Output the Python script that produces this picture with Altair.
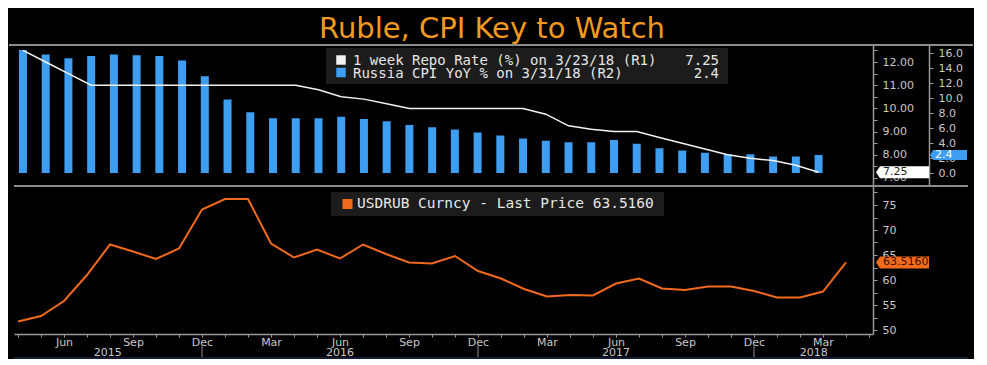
import json
import altair as alt
import pandas as pd

# ---------------- data ----------------
TITLE = "Ruble, CPI Key to Watch"

# month index 0 = Apr 2015 ... 36 = Apr 2018
month_index = list(range(37))
cpi_yoy = [16.4, 15.8, 15.3, 15.6, 15.8, 15.7, 15.6, 15.0, 12.9, 9.8, 8.1, 7.3,
           7.3, 7.3, 7.5, 7.2, 6.9, 6.4, 6.1, 5.8, 5.4, 5.0, 4.6, 4.3,
           4.1, 4.1, 4.4, 3.9, 3.3, 3.0, 2.7, 2.5, 2.5, 2.2, 2.2, 2.4]
repo_rate = [12.5, 12.0, 11.5, 11.0, 11.0, 11.0, 11.0, 11.0, 11.0, 11.0, 11.0, 11.0,
             11.0, 10.8, 10.5, 10.4, 10.2, 10.0, 10.0, 10.0, 10.0, 10.0, 10.0, 9.75,
             9.25, 9.1, 9.0, 9.0, 8.75, 8.5, 8.25, 8.0, 7.85, 7.75, 7.55, 7.25]
usdrub = [51.7, 52.8, 55.8, 61.0, 67.1, 65.7, 64.2, 66.3, 74.1, 76.2, 76.2, 67.3,
          64.5, 66.1, 64.3, 67.1, 65.2, 63.5, 63.3, 64.8, 61.8, 60.3, 58.2, 56.7,
          57.0, 56.9, 59.3, 60.3, 58.3, 58.0, 58.7, 58.7, 57.8, 56.5, 56.5, 57.7, 63.516]

month_ticks = list(range(38))
quarter_idx = [2, 5, 8, 11, 14, 17, 20, 23, 26, 29, 32, 35]
quarter_txt = ["Jun", "Sep", "Dec", "Mar", "Jun", "Sep", "Dec", "Mar", "Jun", "Sep", "Dec", "Mar"]
years = ["2015", "2016", "2017", "2018"]
year_pos = [3.9, 14.0, 26.0, 34.6]
year_breaks = [8, 20, 32]

repo_ticks = [7.0, 7.5, 8.0, 8.5, 9.0, 9.5, 10.0, 10.5, 11.0, 11.5, 12.0, 12.5]
cpi_ticks = [0, 2, 4, 6, 8, 10, 12, 14, 16]
usd_ticks = [50, 52.5, 55, 57.5, 60, 62.5, 65, 67.5, 70, 72.5, 75, 77.5]

legend_top_labels = ["1 week Repo Rate (%) on 3/23/18 (R1)", "Russia CPI YoY % on 3/31/18 (R2)"]
legend_top_values = ["7.25", "2.4"]
legend_bottom_label = "USDRUB Curncy - Last Price 63.5160"

# ---------------- style ----------------
BG = "#000000"
BLUE = "#3d9ef2"
WHITE = "#f2f2f2"
ORANGE = "#f26a1b"
TITLE_C = "#f39a1e"
LABEL = "#c8c8c8"
AXIS = "#9a9a9a"
LEG_BG = "#1c1c1c"
NAVY = "#161c38"
FONT = "DejaVu Sans"
MONO = "DejaVu Sans Mono"

W, H1, H2 = 859, 141, 148

x_scale = alt.Scale(domain=[-0.174, 37.174], nice=False, zero=False)
repo_scale = alt.Scale(domain=[6.655, 12.733], nice=False, zero=False)
cpi_scale = alt.Scale(domain=[-1.733, 17.067], nice=False, zero=False)
usd_scale = alt.Scale(domain=[49.2, 78.8], nice=False, zero=False)

axis_common = dict(grid=False, title=None, labelFont=FONT, labelFontSize=11,
                   labelColor=LABEL, domainColor=AXIS, tickColor=AXIS,
                   domainWidth=1.5, tickWidth=1, labelOverlap=False, labelFlush=False)

labels38 = [""] * len(month_ticks)
for k, t in zip(quarter_idx, quarter_txt):
    labels38[k] = t
x_label_expr = json.dumps(labels38) + "[datum.value]"

x_axis_bottom = alt.Axis(values=month_ticks, labelExpr=x_label_expr, tickSize=3,
                         labelPadding=-1, **axis_common)
y_axis_usd = alt.Axis(orient="right", offset=0, values=usd_ticks,
                      labelExpr="datum.value % 5 === 0 ? format(datum.value, 'd') : ''",
                      tickSize=4, labelPadding=5, **axis_common)

BADGE_WIDE = "M-1,0L-0.85,-0.226L1,-0.226L1,0.226L-0.85,0.226Z"
BADGE_SMALL = "M-1,0L-0.83,-0.27L1,-0.27L1,0.27L-0.83,0.27Z"

top_df = pd.DataFrame({"i": month_index[:36], "cpi": cpi_yoy, "repo": repo_rate})
usd_df = pd.DataFrame({"i": month_index, "usd": usdrub})
one = pd.DataFrame({"k": [0]})
xq = alt.X("i:Q", scale=x_scale, axis=None)

# ---------------- top panel ----------------
title_mark = alt.Chart(pd.DataFrame({"t": [TITLE]})).mark_text(
    font=FONT, fontSize=29, color=TITLE_C, align="center", baseline="top"
).encode(x=alt.value(478), y=alt.value(-30), text="t:N")

border_top = alt.Chart(one).mark_rule(color="#8c8c8c", strokeWidth=2).encode(
    x=alt.value(-5), x2=alt.value(959), y=alt.value(0))
border_mid = alt.Chart(one).mark_rule(color="#8c8c8c", strokeWidth=2).encode(
    x=alt.value(0), x2=alt.value(954), y=alt.value(H1))

bars = alt.Chart(top_df).mark_bar(color=BLUE, size=8).encode(
    x=xq,
    y=alt.Y("cpi:Q", scale=cpi_scale,
            axis=alt.Axis(orient="right", offset=56, values=cpi_ticks, format=".1f",
                          tickSize=4, labelPadding=5, **axis_common)),
    y2=alt.datum(0),
)

repo_line = alt.Chart(top_df).mark_line(color=WHITE, strokeWidth=1.5).encode(
    x=xq,
    y=alt.Y("repo:Q", scale=repo_scale,
            axis=alt.Axis(orient="right", offset=0, values=repo_ticks,
                          labelExpr="datum.value % 1 === 0 ? format(datum.value, '.2f') : ''",
                          tickSize=4, labelPadding=5, **axis_common)),
)

leg_box_top = alt.Chart(one).mark_rect(color=LEG_BG).encode(
    x=alt.value(312), x2=alt.value(714), y=alt.value(3), y2=alt.value(39))
leg_sq1 = alt.Chart(one).mark_square(color=WHITE, size=90, opacity=1).encode(
    x=alt.value(327), y=alt.value(15))
leg_sq2 = alt.Chart(one).mark_square(color=BLUE, size=90, opacity=1).encode(
    x=alt.value(327), y=alt.value(27.5))
leg_txt = alt.Chart(pd.DataFrame({"t": ["\n".join(legend_top_labels)]})).mark_text(
    font=MONO, fontSize=14, lineHeight=12.5, lineBreak="\n", color="#e6e6e6",
    align="left", baseline="top"
).encode(x=alt.value(339), y=alt.value(9), text="t:N")
leg_val = alt.Chart(pd.DataFrame({"t": ["\n".join(legend_top_values)]})).mark_text(
    font=MONO, fontSize=14, lineHeight=12.5, lineBreak="\n", color="#e6e6e6",
    align="right", baseline="top"
).encode(x=alt.value(705), y=alt.value(9), text="t:N")

repo_last = pd.DataFrame({"v": [repo_rate[-1]], "t": [f"{repo_rate[-1]:.2f}"]})
cpi_last = pd.DataFrame({"v": [cpi_yoy[-1]], "t": [f"{cpi_yoy[-1]:.1f}"]})

repo_badge = alt.Chart(repo_last).mark_point(
    shape=BADGE_WIDE, filled=True, color="#ffffff", size=2809, opacity=1, strokeWidth=0
).encode(x=alt.value(888.5), y=alt.Y("v:Q", scale=repo_scale, axis=None))
repo_badge_t = alt.Chart(repo_last).mark_text(
    font=FONT, fontSize=11, color="#1e1e1e", align="left", baseline="middle"
).encode(x=alt.value(869), y=alt.Y("v:Q", scale=repo_scale, axis=None), text="t:N")

cpi_badge = alt.Chart(cpi_last).mark_point(
    shape=BADGE_SMALL, filled=True, color=BLUE, size=1369, opacity=1, strokeWidth=0
).encode(x=alt.value(934.5), y=alt.Y("v:Q", scale=cpi_scale, axis=None))
cpi_badge_t = alt.Chart(cpi_last).mark_text(
    font=FONT, fontSize=11, color="#ffffff", align="left", baseline="middle"
).encode(x=alt.value(921), y=alt.Y("v:Q", scale=cpi_scale, axis=None), text="t:N")

top = alt.layer(
    border_top, border_mid, bars, repo_line, leg_box_top, leg_sq1, leg_sq2,
    leg_txt, leg_val, repo_badge, repo_badge_t, cpi_badge, cpi_badge_t,
    title_mark,
).resolve_scale(y="independent").properties(width=W, height=H1)

# ---------------- bottom panel ----------------
usd_line = alt.Chart(usd_df).mark_line(color=ORANGE, strokeWidth=2).encode(
    x=alt.X("i:Q", scale=x_scale, axis=x_axis_bottom),
    y=alt.Y("usd:Q", scale=usd_scale, axis=y_axis_usd),
)

leg_box_bot = alt.Chart(one).mark_rect(color=LEG_BG).encode(
    x=alt.value(317), x2=alt.value(650), y=alt.value(6), y2=alt.value(30))
leg_sq3 = alt.Chart(one).mark_square(color=ORANGE, size=100, opacity=1).encode(
    x=alt.value(333.5), y=alt.value(18))
leg_t3 = alt.Chart(pd.DataFrame({"t": [legend_bottom_label]})).mark_text(
    font=MONO, fontSize=14.5, color="#e6e6e6", align="left", baseline="middle"
).encode(x=alt.value(343), y=alt.value(18), text="t:N")

usd_last = pd.DataFrame({"usd": [usdrub[-1]], "t": [f"{usdrub[-1]:.4f}"]})
usd_badge = alt.Chart(usd_last).mark_point(
    shape=BADGE_WIDE, filled=True, color=ORANGE, size=2809, opacity=1, strokeWidth=0
).encode(x=alt.value(888.5), y=alt.Y("usd:Q", scale=usd_scale, axis=y_axis_usd))
usd_badge_t = alt.Chart(usd_last).mark_text(
    font=FONT, fontSize=11, color="#3a1000", align="left", baseline="middle"
).encode(x=alt.value(869), y=alt.Y("usd:Q", scale=usd_scale, axis=y_axis_usd), text="t:N")

year_df = pd.DataFrame({"i": year_pos, "t": years})
year_labels = alt.Chart(year_df).mark_text(
    font=FONT, fontSize=11, color=LABEL, align="center", baseline="top"
).encode(x=alt.X("i:Q", scale=x_scale, axis=x_axis_bottom), y=alt.value(H2 + 13), text="t:N")

break_df = pd.DataFrame({"i": year_breaks})
year_sep = alt.Chart(break_df).mark_rule(color="#8c8c8c", strokeWidth=1).encode(
    x=alt.X("i:Q", scale=x_scale, axis=x_axis_bottom), y=alt.value(H2 + 12), y2=alt.value(H2 + 24))

navy = alt.Chart(one).mark_rule(color=NAVY, strokeWidth=2).encode(
    x=alt.value(0), x2=alt.value(954), y=alt.value(H2 + 24))

bottom = alt.layer(
    leg_box_bot, leg_sq3, leg_t3, usd_line, usd_badge, usd_badge_t,
    year_labels, year_sep, navy,
).properties(width=W, height=H2)

chart = alt.vconcat(top, bottom, spacing=0, bounds="flush").properties(
    background=BG, padding={"left": 0, "top": 7, "right": 0, "bottom": 0}
).configure_view(stroke=None)

chart.save("out.html", embed_options={"renderer": "svg", "actions": False})
